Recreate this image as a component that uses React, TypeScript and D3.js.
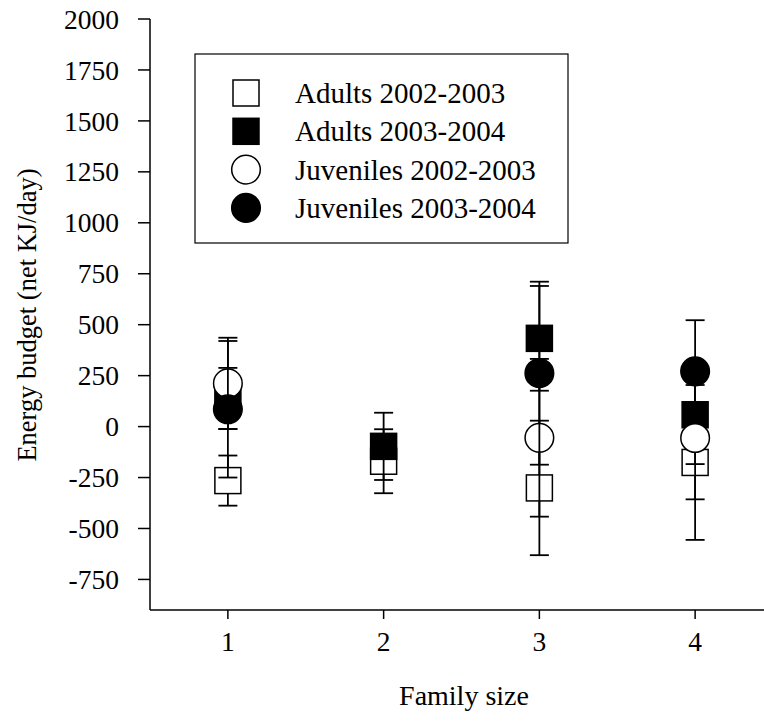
import React from "react";
import * as d3 from "d3";

// Family sizes on the x axis
const familySizes = [1, 2, 3, 4];

// Mean energy budget (net KJ/day) and standard errors per group
const adults0203 = [-265, -170, -301, -176];
const adults0203Err = [123, 157, 330, 380];
const adults0304 = [138, -97, 433, 58];
const adults0304Err = [150, 165, 257, 242];
const juveniles0203 = [212, null, -55, -56];
const juveniles0203Err = [224, null, 387, 301];
const juveniles0304 = [85, null, 262, 271];
const juveniles0304Err = [335, null, 449, 251];

const yTicks = [-750, -500, -250, 0, 250, 500, 750, 1000, 1250, 1500, 1750, 2000];
const xTicks = [1, 2, 3, 4];

type Series = {
  name: string;
  shape: "square" | "circle";
  filled: boolean;
  values: (number | null)[];
  errors: (number | null)[];
};

const series: Series[] = [
  { name: "Adults 2002-2003", shape: "square", filled: false, values: adults0203, errors: adults0203Err },
  { name: "Adults 2003-2004", shape: "square", filled: true, values: adults0304, errors: adults0304Err },
  { name: "Juveniles 2002-2003", shape: "circle", filled: false, values: juveniles0203, errors: juveniles0203Err },
  { name: "Juveniles 2003-2004", shape: "circle", filled: true, values: juveniles0304, errors: juveniles0304Err },
];

const textStyle: React.CSSProperties = { fontFamily: "Liberation Serif, Times New Roman, Times, serif" };
const W = 764;
const H = 725;

function Marker({ shape, filled, cx, cy }: { shape: string; filled: boolean; cx: number; cy: number }) {
  const fill = filled ? "#000" : "#fff";
  if (shape === "square") {
    const s = 26;
    return <rect x={cx - s / 2} y={cy - s / 2} width={s} height={s} fill={fill} stroke="#000" strokeWidth={1.5} />;
  }
  return <circle cx={cx} cy={cy} r={14.3} fill={fill} stroke="#000" strokeWidth={1.5} />;
}

export default function App() {
  const x = d3.scaleLinear().domain([0.5, 4.5]).range([150, 773]);
  const y = d3.scaleLinear().domain([-900, 2000]).range([610, 19]);
  const capHalf = 9.5;

  return (
    <svg width={W} height={H} style={{ position: "absolute", left: 0, top: 0, background: "#fff" }}>
      <rect x={0} y={0} width={W} height={H} fill="#fff" />

      {/* axes */}
      <line x1={150} x2={150} y1={y(2000)} y2={610} stroke="#000" strokeWidth={1.5} />
      <line x1={150} x2={773} y1={610} y2={610} stroke="#000" strokeWidth={1.5} />

      {yTicks.map((t) => (
        <g key={t}>
          <line x1={138} x2={150} y1={y(t)} y2={y(t)} stroke="#000" strokeWidth={1.5} />
          <text x={119} y={y(t)} dy="0.35em" textAnchor="end" fontSize={27.5} style={textStyle}>
            {t}
          </text>
        </g>
      ))}

      {xTicks.map((t) => (
        <g key={t}>
          <line x1={x(t)} x2={x(t)} y1={610} y2={619} stroke="#000" strokeWidth={1.5} />
          <text x={x(t)} y={651} textAnchor="middle" fontSize={27.5} style={textStyle}>
            {t}
          </text>
        </g>
      ))}

      <text x={464} y={705} textAnchor="middle" fontSize={28} style={textStyle}>
        Family size
      </text>
      <text transform={`translate(36, 315) rotate(-90)`} textAnchor="middle" fontSize={26.5} style={textStyle}>
        Energy budget (net KJ/day)
      </text>

      {/* data: error bar then marker for each group */}
      {series.map((s) => (
        <g key={s.name}>
          {familySizes.map((f, i) => {
            const v = s.values[i];
            const e = s.errors[i];
            if (v == null || e == null) return null;
            const cx = x(f);
            const yTop = y(v + e);
            const yBot = y(v - e);
            return (
              <g key={f}>
                <line x1={cx} x2={cx} y1={yTop} y2={yBot} stroke="#000" strokeWidth={1.8} />
                <line x1={cx - capHalf} x2={cx + capHalf} y1={yTop} y2={yTop} stroke="#000" strokeWidth={1.8} />
                <line x1={cx - capHalf} x2={cx + capHalf} y1={yBot} y2={yBot} stroke="#000" strokeWidth={1.8} />
                <Marker shape={s.shape} filled={s.filled} cx={cx} cy={y(v)} />
              </g>
            );
          })}
        </g>
      ))}

      {/* legend */}
      <rect x={195} y={54} width={373} height={189} fill="#fff" stroke="#000" strokeWidth={1.2} />
      {series.map((s, i) => {
        const cy = 93 + i * 38.3;
        return (
          <g key={s.name}>
            <Marker shape={s.shape} filled={s.filled} cx={246} cy={cy} />
            <text x={295} y={cy} dy="0.35em" fontSize={29} style={textStyle}>
              {s.name}
            </text>
          </g>
        );
      })}
    </svg>
  );
}
